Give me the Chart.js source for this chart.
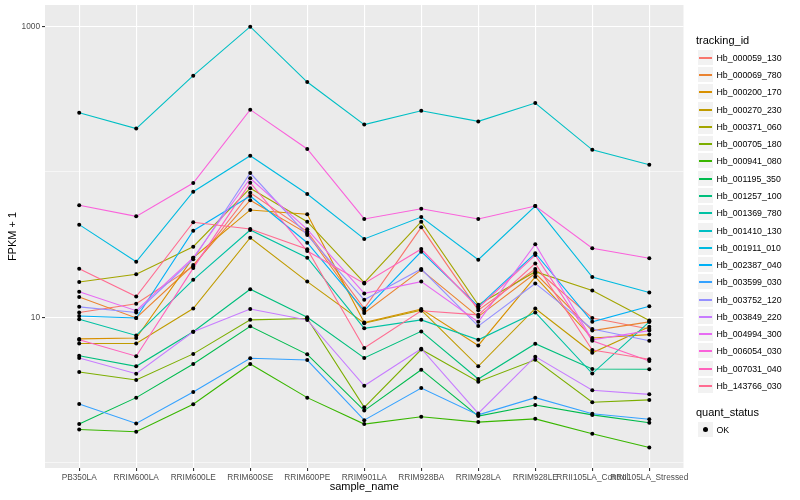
<!DOCTYPE html>
<html>
<head>
<meta charset="utf-8">
<script src="https://cdn.jsdelivr.net/npm/chart.js@4"></script>
<style>
body{margin:0;background:#fff;}
#wrap{position:relative;width:800px;height:500px;font-family:"Liberation Sans",Arial,sans-serif;overflow:hidden;}
#c{position:absolute;left:0;top:0;}
.lgt{position:absolute;left:696px;font-size:11px;line-height:13px;color:#000;white-space:nowrap;}
.key{position:absolute;left:697px;width:17px;height:17px;background:#F2F2F2;border:1px solid #fff;box-sizing:border-box;}
.key i{position:absolute;display:block;left:1px;width:13px;top:7px;height:0;border-top:2px solid;}
.key b{position:absolute;display:block;left:5px;top:5px;width:5px;height:5px;border-radius:50%;background:#000;}
.lbl{position:absolute;left:716.5px;font-size:8.8px;line-height:10px;color:#000;white-space:nowrap;}
</style>
</head>
<body>
<div id="wrap">
<canvas id="c" width="800" height="500"></canvas>
<div id="legend"></div>
</div>
<script>
// ---------- data ----------
const categories = ["PB350LA","RRIM600LA","RRIM600LE","RRIM600SE","RRIM600PE","RRIM901LA","RRIM928BA","RRIM928LA","RRIM928LE","RRII105LA_Control","RRII105LA_Stressed"];
const seriesNames = ["Hb_000059_130","Hb_000069_780","Hb_000200_170","Hb_000270_230","Hb_000371_060","Hb_000705_180","Hb_000941_080","Hb_001195_350","Hb_001257_100","Hb_001369_780","Hb_001410_130","Hb_001911_010","Hb_002387_040","Hb_003599_030","Hb_003752_120","Hb_003849_220","Hb_004994_300","Hb_006054_030","Hb_007031_040","Hb_143766_030"];

const hb_000059_130 = [10.8, 12.4, 22.4, 72.0, 38.9, 11.5, 41.6, 11.2, 21.5, 9.9, 8.3];
const hb_000069_780 = [13.8, 9.9, 22.9, 63.9, 37.7, 10.7, 21.2, 10.1, 20.1, 8.1, 9.3];
const hb_000200_170 = [7.1, 7.2, 25.7, 54.8, 51.2, 9.2, 11.4, 6.4, 19.0, 7.2, 7.6];
const hb_000270_230 = [6.6, 6.6, 11.5, 35.3, 17.6, 9.1, 11.2, 4.6, 11.5, 5.7, 8.6];
const hb_000371_060 = [17.5, 19.8, 30.6, 77.3, 45.5, 17.3, 45.5, 12.2, 20.6, 15.3, 9.5];
const hb_000705_180 = [4.2, 3.7, 5.6, 9.6, 9.8, 2.4, 6.0, 3.6, 5.1, 2.6, 2.7];
const hb_000941_080 = [1.69, 1.63, 2.52, 4.77, 2.80, 1.84, 2.07, 1.90, 2.00, 1.58, 1.27];
const hb_001195_350 = [1.84, 2.80, 4.77, 8.67, 5.56, 2.28, 4.36, 2.09, 2.49, 2.13, 1.88];
const hb_001257_100 = [5.44, 4.60, 7.96, 15.6, 10.0, 5.25, 8.0, 3.76, 6.58, 4.41, 4.39];
const hb_001369_780 = [9.7, 7.5, 18.1, 39.9, 25.7, 8.4, 9.6, 7.0, 10.8, 4.1, 9.3];
const hb_001410_130 = [256, 199, 460, 1000, 416, 212, 264, 223, 298, 142, 112];
const hb_001911_010 = [43.4, 24.1, 73.2, 129.5, 70.6, 34.6, 49.0, 24.9, 58.3, 18.9, 14.8];
const hb_002387_040 = [10.2, 9.9, 39.4, 68.4, 32.6, 11.1, 28.3, 11.9, 27.6, 9.3, 11.9];
const hb_003599_030 = [2.53, 1.86, 3.06, 5.22, 5.08, 1.96, 3.26, 2.13, 2.80, 2.17, 1.99];
const hb_003752_120 = [11.8, 10.8, 25.1, 98.4, 36.8, 13.2, 21.5, 8.7, 17.1, 8.3, 6.9];
const hb_003849_220 = [5.25, 4.09, 7.96, 11.4, 9.58, 3.38, 6.08, 2.18, 5.36, 3.15, 2.95];
const hb_004994_300 = [15.0, 11.1, 25.7, 90.5, 40.3, 14.6, 17.6, 9.3, 31.8, 7.0, 8.1];
const hb_006054_030 = [59.0, 49.5, 84.0, 268.5, 143.9, 47.5, 55.9, 47.5, 58.3, 29.9, 25.5];
const hb_007031_040 = [7.0, 5.4, 21.8, 84.4, 28.6, 17.1, 29.5, 11.6, 26.8, 6.9, 5.0];
const hb_143766_030 = [21.6, 13.9, 45.1, 40.5, 29.4, 6.15, 11.1, 10.4, 23.5, 5.96, 5.14];

const seriesValues = [hb_000059_130, hb_000069_780, hb_000200_170, hb_000270_230, hb_000371_060, hb_000705_180, hb_000941_080, hb_001195_350, hb_001257_100, hb_001369_780, hb_001410_130, hb_001911_010, hb_002387_040, hb_003599_030, hb_003752_120, hb_003849_220, hb_004994_300, hb_006054_030, hb_007031_040, hb_143766_030];

const yTickValues = [1, 10, 100, 1000];
const yTickLabels = ["", "10", "", "1000"];
const statusLevels = ["OK"];

// ---------- styles ----------
const seriesColors = ["#F8766D","#EA8331","#D89000","#C09B00","#A3A500","#7CAE00","#39B600","#00BB4E","#00BF7D","#00C1A3","#00BFC4","#00BAE0","#00B0F6","#35A2FF","#9590FF","#C77CFF","#E76BF3","#FA62DB","#FF62BC","#FF6C91"];
const FONT = '"Liberation Sans", Arial, sans-serif';

const lineSets = seriesValues.map((vals, i) => ({
  label: seriesNames[i],
  data: vals.map((v, j) => ({x: j, y: v})),
  borderColor: seriesColors[i],
  backgroundColor: seriesColors[i],
  borderWidth: 1.1,
  pointRadius: 0,
  fill: false,
  tension: 0,
  order: 100 - i
}));
const pointSets = seriesValues.map((vals, i) => ({
  label: seriesNames[i] + " " + statusLevels[0],
  data: vals.map((v, j) => ({x: j, y: v})),
  showLine: false,
  pointRadius: 2,
  pointHoverRadius: 2,
  pointBackgroundColor: "#000000",
  pointBorderWidth: 0,
  borderColor: "#000000",
  order: 0
}));

const panelBg = {
  id: "panelBg",
  beforeDraw(chart) {
    const {ctx, chartArea: a} = chart;
    ctx.save();
    ctx.fillStyle = "#EBEBEB";
    ctx.fillRect(a.left, a.top, a.right - a.left, a.bottom - a.top);
    ctx.restore();
  }
};

const isMajorY = v => v === 10 || v === 1000;

new Chart(document.getElementById("c"), {
  type: "line",
  data: {datasets: [...lineSets, ...pointSets]},
  options: {
    responsive: false,
    animation: false,
    events: [],
    layout: {padding: {left: 0, right: 116.5, top: 5, bottom: 0}},
    plugins: {legend: {display: false}, tooltip: {enabled: false}},
    scales: {
      x: {
        type: "linear",
        min: -0.6,
        max: 10.6,
        afterBuildTicks: s => { s.ticks = categories.map((c, i) => ({value: i})); },
        afterFit: s => { s.height = 32; s.paddingLeft = 0; s.paddingRight = 0; },
        ticks: {
          autoSkip: false, maxRotation: 0, minRotation: 0, padding: 2,
          color: "#4D4D4D", font: {family: FONT, size: 8.3},
          callback: v => categories[v]
        },
        grid: {color: "#FFFFFF", lineWidth: 1.1, drawTicks: true, tickLength: 3, tickColor: "#333333", tickWidth: 1.1},
        border: {display: false},
        title: {display: true, text: "sample_name", color: "#000000", font: {family: FONT, size: 11}, padding: {top: 0, bottom: 6}}
      },
      y: {
        type: "logarithmic",
        min: 0.918,
        max: 1410,
        afterBuildTicks: s => { s.ticks = yTickValues.map(v => ({value: v})); },
        afterFit: s => { s.width = 45; s.paddingTop = 0; s.paddingBottom = 0; },
        ticks: {
          padding: 2, color: "#4D4D4D", font: {family: FONT, size: 8.3},
          callback: v => { const k = yTickValues.indexOf(v); return k >= 0 ? yTickLabels[k] : ""; }
        },
        grid: {
          color: "#FFFFFF",
          lineWidth: ctx => (ctx.tick && isMajorY(ctx.tick.value)) ? 1.1 : 0.55,
          drawTicks: true, tickLength: 3,
          tickColor: ctx => (ctx.tick && isMajorY(ctx.tick.value)) ? "#333333" : "rgba(0,0,0,0)",
          tickWidth: 1.1
        },
        border: {display: false},
        title: {display: true, text: "FPKM + 1", color: "#000000", font: {family: FONT, size: 11}, padding: {top: 6, bottom: 0}}
      }
    }
  },
  plugins: [panelBg]
});

// ---------- legend ----------
const lg = document.getElementById("legend");
let html = '<div class="lgt" style="top:33.5px">tracking_id</div>';
seriesNames.forEach((n, i) => {
  const top = Math.round(48.7 + i * 17.28);
  html += `<div class="key" style="top:${top}px"><i style="border-top-color:${seriesColors[i]}"></i></div>`;
  html += `<div class="lbl" style="top:${top + 3.5}px">${n}</div>`;
});
html += '<div class="lgt" style="top:405.5px">quant_status</div>';
statusLevels.forEach((s, i) => {
  const top = Math.round(421.3 + i * 17.28);
  html += `<div class="key" style="top:${top}px"><b></b></div>`;
  html += `<div class="lbl" style="top:${top + 3.5}px">${s}</div>`;
});
lg.innerHTML = html;
</script>
</body>
</html>
